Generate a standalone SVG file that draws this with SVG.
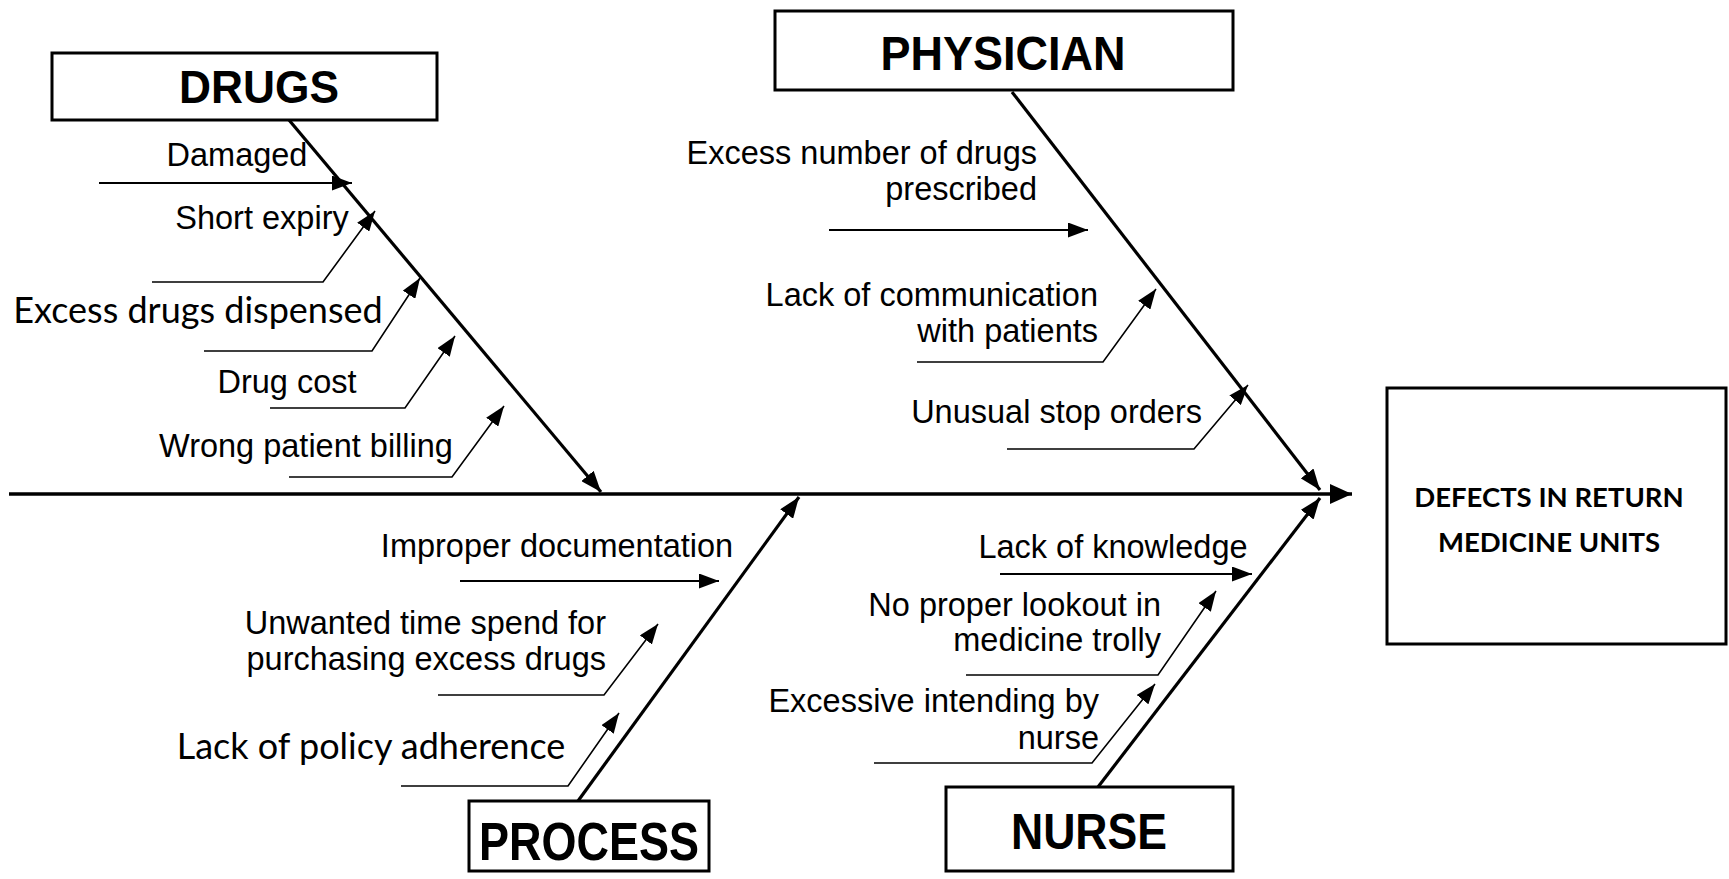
<svg xmlns="http://www.w3.org/2000/svg" width="1729" height="879" viewBox="0 0 1729 879">
<style>
.box{fill:#fff;stroke:#000;stroke-width:3}
.hd{font-family:"Liberation Sans",Arial,sans-serif;font-weight:bold;fill:#000;text-anchor:middle}
.lbl{font-family:"Liberation Sans",Arial,sans-serif;font-size:32.5px;fill:#000}
.cal{font-family:Lato,"Open Sans",sans-serif;font-size:36px;fill:#000}
.eff{font-family:Lato,"Open Sans",sans-serif;font-weight:bold;font-size:27.5px;fill:#000;text-anchor:middle}
.mid{text-anchor:middle}
.end{text-anchor:end}
.bone{fill:none;stroke:#000;stroke-width:3.2;marker-end:url(#big)}
.spine{fill:none;stroke:#000;stroke-width:3.4;marker-end:url(#head)}
.sub{fill:none;stroke:#000;stroke-width:1.6;marker-end:url(#small)}
.subw{fill:none;stroke:#000;stroke-width:2.2;marker-end:url(#small)}
</style>
<defs>
<marker id="head" viewBox="0 0 22 20" refX="22" refY="10" markerWidth="22" markerHeight="20" markerUnits="userSpaceOnUse" orient="auto"><path d="M0,0 L22,10 L0,20 z" fill="#000"/></marker>
<marker id="big" viewBox="0 0 21 16" refX="21" refY="8" markerWidth="21" markerHeight="16" markerUnits="userSpaceOnUse" orient="auto"><path d="M0,0 L21,8 L0,16 z" fill="#000"/></marker>
<marker id="small" viewBox="0 0 20 15" refX="20" refY="7.5" markerWidth="20" markerHeight="15" markerUnits="userSpaceOnUse" orient="auto"><path d="M0,0 L20,7.5 L0,15 z" fill="#000"/></marker>
</defs>
<rect width="1729" height="879" fill="#fff"/>
<g id="connectors">
<line class="spine" x1="9" y1="494" x2="1352" y2="494"/>
<line class="bone" x1="289" y1="120" x2="601" y2="492"/>
<line class="bone" x1="1012" y1="92" x2="1320" y2="490"/>
<line class="bone" x1="578" y1="801" x2="799" y2="497"/>
<line class="bone" x1="1098" y1="787" x2="1320" y2="498"/>
<polyline class="subw" points="99,183 352,183"/>
<polyline class="sub" points="152,282 323,282 375,211"/>
<polyline class="sub" points="204,351 372,351 420,278"/>
<polyline class="sub" points="270,408 405,408 455,336"/>
<polyline class="sub" points="289,477 452,477 504,406"/>
<polyline class="subw" points="829,230 1088,230"/>
<polyline class="sub" points="917,362 1103,362 1156,289"/>
<polyline class="sub" points="1007,449 1194,449 1248,385"/>
<polyline class="subw" points="460,581 719,581"/>
<polyline class="sub" points="438,695 604,695 658,624"/>
<polyline class="sub" points="401,786 568,786 619,713"/>
<polyline class="subw" points="1000,574 1252,574"/>
<polyline class="sub" points="966,675 1158,675 1216,591"/>
<polyline class="sub" points="874,763 1092,763 1155,684"/>
</g>
<g id="drugs">
<rect class="box" x="52" y="53" width="385" height="67"/>
<text class="hd" x="259" y="103" font-size="47" textLength="160" lengthAdjust="spacingAndGlyphs">DRUGS</text>
</g>
<g id="physician">
<rect class="box" x="775" y="11" width="458" height="79"/>
<text class="hd" x="1003" y="70" font-size="49" textLength="245" lengthAdjust="spacingAndGlyphs">PHYSICIAN</text>
</g>
<g id="process">
<rect class="box" x="469" y="801" width="240" height="70"/>
<text class="hd" x="589" y="860" font-size="53" textLength="220" lengthAdjust="spacingAndGlyphs">PROCESS</text>
</g>
<g id="nurse">
<rect class="box" x="946" y="787" width="287" height="84"/>
<text class="hd" x="1089" y="849" font-size="50" textLength="156" lengthAdjust="spacingAndGlyphs">NURSE</text>
</g>
<g id="effect">
<rect class="box" x="1387" y="388" width="339" height="256"/>
<text class="eff" x="1549" y="507">DEFECTS IN RETURN</text>
<text class="eff" x="1549" y="552">MEDICINE UNITS</text>
</g>
<g id="drug-causes">
<text class="lbl mid" x="237" y="166">Damaged</text>
<text class="lbl mid" x="262" y="229">Short expiry</text>
<text class="cal mid" x="198" y="323">Excess drugs dispensed</text>
<text class="lbl mid" x="287" y="393">Drug cost</text>
<text class="lbl mid" x="306" y="457">Wrong patient billing</text>
</g>
<g id="physician-causes">
<text class="lbl end" x="1037" y="164">Excess number of drugs</text>
<text class="lbl end" x="1037" y="200">prescribed</text>
<text class="lbl end" x="1098" y="306">Lack of communication</text>
<text class="lbl end" x="1098" y="342">with patients</text>
<text class="lbl end" x="1202" y="423">Unusual stop orders</text>
</g>
<g id="process-causes">
<text class="lbl mid" x="557" y="557">Improper documentation</text>
<text class="lbl end" x="606" y="634">Unwanted time spend for</text>
<text class="lbl end" x="606" y="670">purchasing excess drugs</text>
<text class="cal mid" x="371" y="759">Lack of policy adherence</text>
</g>
<g id="nurse-causes">
<text class="lbl mid" x="1113" y="558">Lack of knowledge</text>
<text class="lbl end" x="1161" y="616">No proper lookout in</text>
<text class="lbl end" x="1161" y="651">medicine trolly</text>
<text class="lbl end" x="1099" y="712">Excessive intending by</text>
<text class="lbl end" x="1099" y="749">nurse</text>
</g>
</svg>
